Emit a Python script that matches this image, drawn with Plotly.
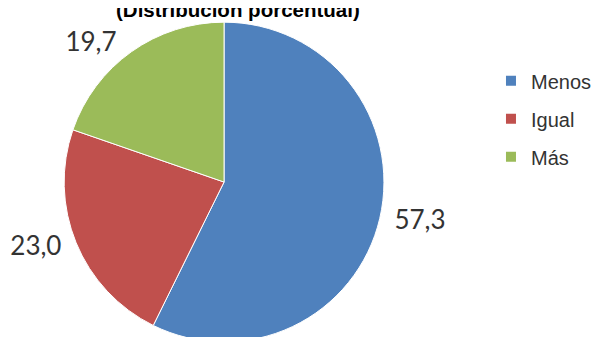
import plotly.graph_objects as go

categories = ["Menos", "Igual", "Más"]
values = [57.3, 23.0, 19.7]
colors = ["#4F81BD", "#C0504D", "#9BBB59"]
title_text = "(Distribución porcentual)"

# a non-breaking space on the side facing the pie pushes each label a bit further out
nb = "\u00a0"
label_fmt = [nb + "%{value:.1f}", "%{value:.1f}" + nb, "%{value:.1f}" + nb]

fig = go.Figure()

fig.add_trace(go.Pie(
    labels=categories,
    values=values,
    sort=False,
    direction="clockwise",
    rotation=0,
    marker=dict(colors=colors, line=dict(color="white", width=1)),
    texttemplate=label_fmt,
    textposition="outside",
    textfont=dict(family="Lato", size=26, color="#333333"),
    domain=dict(x=[0, 0.713], y=[0.009, 0.958]),
    showlegend=False,
    hoverinfo="label+value",
))

# legend entries as square markers, one group each so rows can be spaced out
for name, col in zip(categories, colors):
    fig.add_trace(go.Scatter(
        x=[None], y=[None], mode="markers", name=name,
        marker=dict(symbol="square", size=10, color=col),
        legendgroup=name, showlegend=True,
    ))

fig.update_layout(
    width=606, height=337,
    margin=dict(l=0, r=0, t=0, b=0, autoexpand=False),
    paper_bgcolor="white", plot_bgcolor="white",
    separators=",.",
    xaxis=dict(visible=False), yaxis=dict(visible=False),
    legend=dict(
        x=0.797, y=0.842, xanchor="left", yanchor="top",
        font=dict(family="Liberation Sans", size=20, color="#333333"),
        tracegroupgap=9, itemwidth=30,
    ),
    annotations=[dict(
        text="<b>" + title_text + "</b>",
        xref="paper", yref="paper", x=0.3795, y=0.997,
        xanchor="center", yanchor="middle", showarrow=False,
        font=dict(family="Liberation Sans", size=20.5, color="black"),
    )],
)

fig.write_html("out.html")
